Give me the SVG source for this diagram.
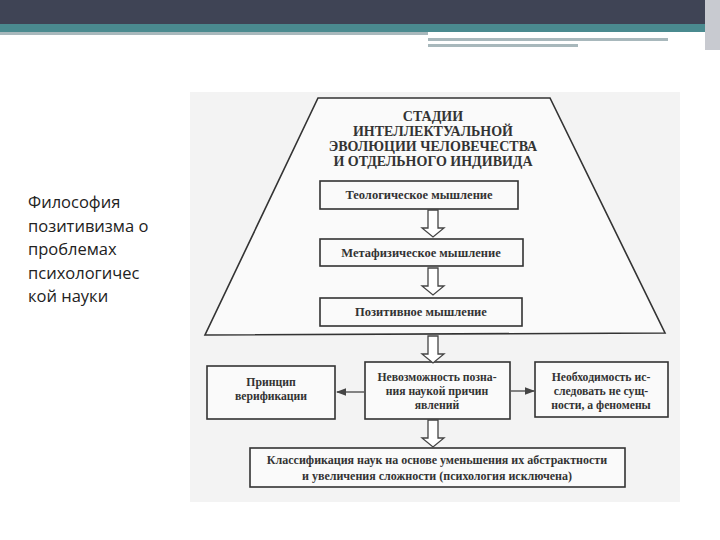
<svg xmlns="http://www.w3.org/2000/svg" width="720" height="540" viewBox="0 0 720 540">
<defs>
<style>
.b{fill:#fafafa;stroke:#333;stroke-width:1.6}
.t{font-family:"Liberation Serif",serif;font-weight:bold;fill:#333;text-anchor:middle}
.h{fill:#fff;stroke:#444;stroke-width:1.3}
.side{font-family:"Open Sans","DejaVu Sans",sans-serif;font-size:16.5px;fill:#222}
</style>
<marker id="m" markerWidth="8" markerHeight="8" refX="7" refY="4" orient="auto"><path d="M0,1 L8,4 L0,7 Z" fill="#444"/></marker>
<path id="ha" d="M-5,0 H5 V18 H11 L0,27 L-11,18 H-5 Z"/>
</defs>
<rect width="720" height="540" fill="#fff"/>
<rect width="720" height="24" fill="#3f4455"/>
<rect y="24" width="720" height="8" fill="#4a8a8f"/>
<rect y="32" width="428" height="3" fill="#a8b8bc"/>
<rect x="428" y="38" width="240" height="3" fill="#a8b8bc"/>
<rect x="428" y="44" width="150" height="3" fill="#a8b8bc"/>
<rect x="705" y="0" width="15" height="50" fill="#c8cad0"/>
<g class="side">
<text x="28" y="208">Философия</text>
<text x="28" y="232">позитивизма о</text>
<text x="28" y="255">проблемах</text>
<text x="28" y="279">психологичес</text>
<text x="28" y="302">кой науки</text>
</g>
<rect x="190" y="92" width="490" height="410" fill="#f3f3f3"/>
<g id="trap">
<path d="M318,98 L550,98 L665,333 L205,335 Z" class="b"/>
<text class="t" font-size="14"><tspan x="433" y="121">СТАДИИ</tspan><tspan x="433" y="136">ИНТЕЛЛЕКТУАЛЬНОЙ</tspan><tspan x="433" y="151">ЭВОЛЮЦИИ ЧЕЛОВЕЧЕСТВА</tspan><tspan x="433" y="166">И ОТДЕЛЬНОГО ИНДИВИДА</tspan></text>
</g>
<g id="n1"><rect x="320" y="181" width="198" height="28" class="b"/><text class="t" font-size="12.5" x="419" y="199">Теологическое мышление</text></g>
<g id="n2"><rect x="320" y="239" width="203" height="27" class="b"/><text class="t" font-size="12.5" x="421" y="257">Метафизическое мышление</text></g>
<g id="n3"><rect x="320" y="298" width="202" height="28" class="b"/><text class="t" font-size="12.5" x="421" y="316">Позитивное мышление</text></g>
<g id="n4"><rect x="207" y="366" width="128" height="53" class="b"/><text class="t" font-size="11.7"><tspan x="271" y="386">Принцип</tspan><tspan x="271" y="400">верификации</tspan></text></g>
<g id="n5"><rect x="365" y="362" width="145" height="57" class="b"/><text class="t" font-size="11.7"><tspan x="437" y="381">Невозможность позна-</tspan><tspan x="437" y="395">ния наукой причин</tspan><tspan x="437" y="409">явлений</tspan></text></g>
<g id="n6"><rect x="535" y="362" width="133" height="55" class="b"/><text class="t" font-size="11.7"><tspan x="601" y="381">Необходимость ис-</tspan><tspan x="601" y="395">следовать не сущ-</tspan><tspan x="601" y="409">ности, а феномены</tspan></text></g>
<g id="n7"><rect x="250" y="448" width="375" height="39" class="b"/><text class="t" font-size="12"><tspan x="437" y="464">Классификация наук на основе уменьшения их абстрактности</tspan><tspan x="437" y="480">и увеличения сложности (психология исключена)</tspan></text></g>
<g id="connectors">
<use href="#ha" x="433" y="210" class="h"/>
<use href="#ha" x="433" y="268" class="h"/>
<use href="#ha" x="433" y="336" class="h"/>
<use href="#ha" x="433" y="420" class="h"/>
<line x1="364" y1="392" x2="337" y2="392" stroke="#444" stroke-width="1.3" marker-end="url(#m)"/>
<line x1="511" y1="391" x2="534" y2="391" stroke="#444" stroke-width="1.3" marker-end="url(#m)"/>
</g>
</svg>
